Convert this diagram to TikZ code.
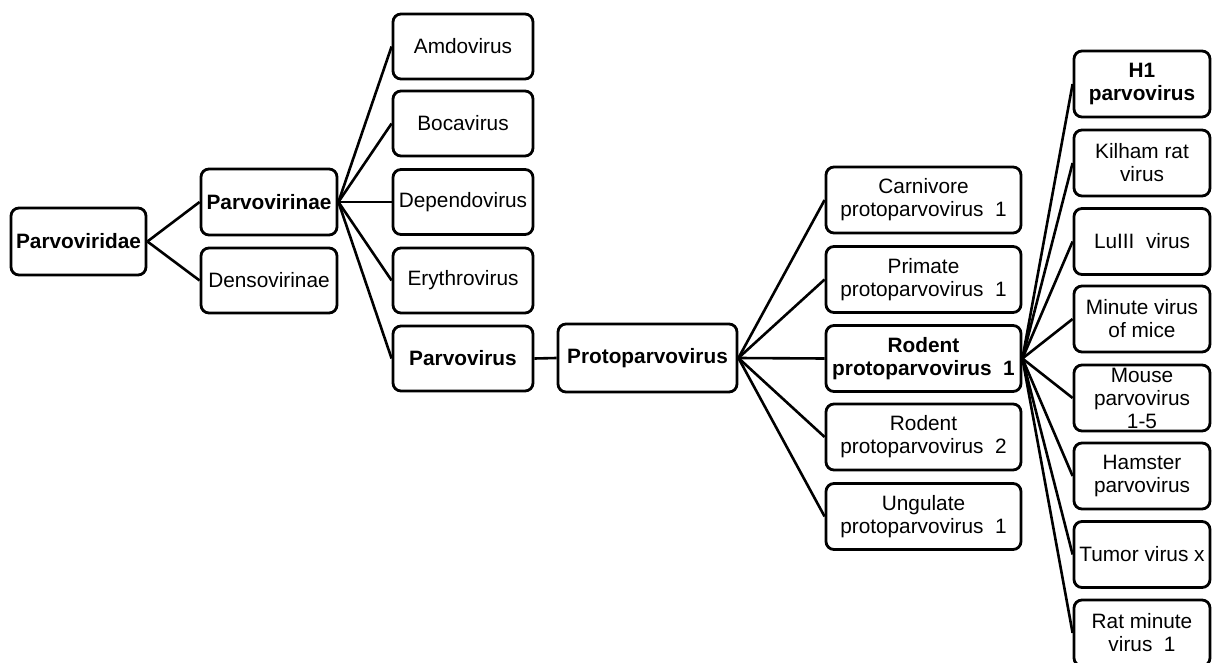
\documentclass[tikz,border=0pt]{standalone}
\usepackage{fontspec}
\setmainfont{Liberation Sans}
\begin{document}
\begin{tikzpicture}[x=1pt,y=-1pt,
  box/.style={draw, line width=2.8pt, rounded corners=8pt, inner sep=0pt, align=center,
    font=\fontsize{20.8}{23}\selectfont},
  bbox/.style={box, font=\fontsize{20.8}{23}\selectfont\bfseries},
  link/.style={line width=2.6pt}]
\useasboundingbox (0,0) rectangle (1212,663);
% level 0/1
\node[bbox, minimum width=135pt, minimum height=67pt] (pvd) at (78.5,241.5) {Parvoviridae};
\node[bbox, minimum width=136pt, minimum height=66pt] (pvn) at (269,202) {Parvovirinae};
\node[box, minimum width=136pt, minimum height=65pt] (dsn) at (269,280.5) {Densovirinae};
% genera
\tikzset{gen/.style={minimum width=140pt, minimum height=65pt}}
\node[box, gen] (amd) at (463,46.5) {Amdovirus};
\node[box, gen] (boc) at (463,123.5) {Bocavirus};
\node[box, gen] (dep) at (463,202) {Dependovirus};
\node[box, gen] (ery) at (463,280.5) {Erythrovirus};
\node[bbox, gen] (pvv) at (463,358.5) {Parvovirus};
\node[bbox, minimum width=179pt, minimum height=68pt] (ppv) at (647.5,358) {Protoparvovirus};
% species
\tikzset{spc/.style={minimum width=195pt, minimum height=66pt}}
\node[box, spc] (car) at (923.5,200) {Carnivore\\protoparvovirus\ \ 1};
\node[box, spc] (pri) at (923.5,279.5) {Primate\\protoparvovirus\ \ 1};
\node[bbox, spc] (ro1) at (923.5,358.5) {Rodent\\protoparvovirus\ \ 1};
\node[box, spc] (ro2) at (923.5,437) {Rodent\\protoparvovirus\ \ 2};
\node[box, spc] (ung) at (923.5,516.5) {Ungulate\\protoparvovirus\ \ 1};
% strains
\tikzset{str/.style={minimum width=136pt, minimum height=66pt}}
\node[bbox, str] (h1) at (1142,84) {H1\\parvovirus};
\node[box, str] (kil) at (1142,163) {Kilham\ rat\\virus};
\node[box, str] (lu) at (1142,241.5) {LuIII\ \ virus};
\node[box, str] (mvm) at (1142,319) {Minute\ virus\\of\ mice};
\node[box, str] (mpv) at (1142,398) {Mouse\\parvovirus\\1-5};
\node[box, str] (ham) at (1142,476) {Hamster\\parvovirus};
\node[box, str] (tvx) at (1142,554.5) {Tumor\ virus\ x};
\node[box, str] (rmv) at (1142,633) {Rat\ minute\\virus\ \ 1};
% connectors
\foreach \c in {pvn,dsn} \draw[link] (pvd.east) -- (\c.west);
\foreach \c in {amd,boc,dep,ery,pvv} \draw[link] (pvn.east) -- (\c.west);
\draw[link] (pvv.east) -- (ppv.west);
\foreach \c in {car,pri,ro1,ro2,ung} \draw[link] (ppv.east) -- (\c.west);
\foreach \c in {h1,kil,lu,mvm,mpv,ham,tvx,rmv} \draw[link] (ro1.east) -- (\c.west);
\end{tikzpicture}
\end{document}
